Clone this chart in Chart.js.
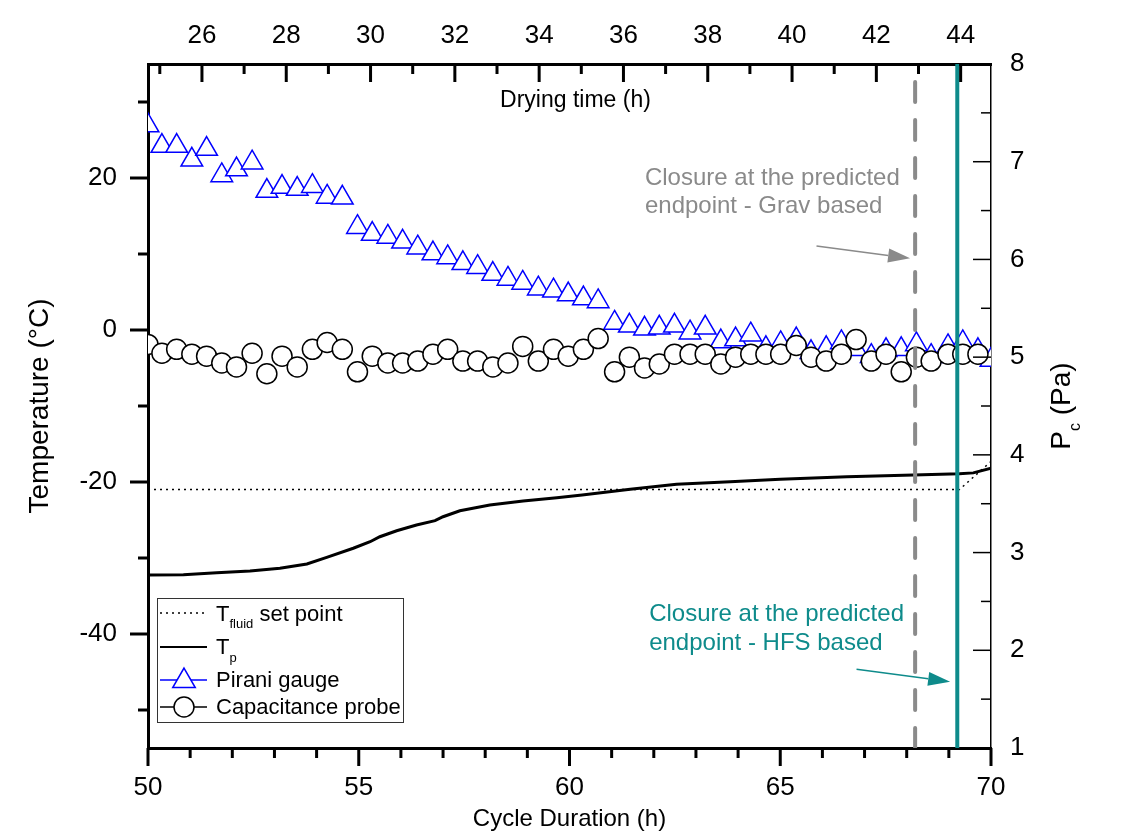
<!DOCTYPE html>
<html>
<head>
<meta charset="utf-8">
<script src="https://cdn.jsdelivr.net/npm/chart.js@4.4.1/dist/chart.umd.min.js"></script>
<style>
  body { margin: 0; background: #fff; }
  #wrap { width: 1128px; height: 834px; }
</style>
</head>
<body>
<div id="wrap"><canvas id="chart"></canvas></div>
<script>
// axis ticks
var cycleTicks = [50, 55, 60, 65, 70];
var dryingTicks = [26, 28, 30, 32, 34, 36, 38, 40, 42, 44];
var tempTicks = [-40, -20, 0, 20];
var pcTicks = [1, 2, 3, 4, 5, 6, 7, 8];

// drying time = cycle duration - offset (h)
var dryingOffset = 25.28;

// chamber pressure readings (Pa)
var pressureTimes = [50.00, 50.33, 50.68, 51.04, 51.39, 51.75, 52.10, 52.47, 52.82, 53.18,
  53.54, 53.90, 54.25, 54.61, 54.97, 55.32, 55.69, 56.04, 56.40, 56.76,
  57.11, 57.47, 57.82, 58.18, 58.54, 58.89, 59.26, 59.62, 59.97, 60.33,
  60.68, 61.07, 61.42, 61.78, 62.13, 62.49, 62.86, 63.22, 63.59, 63.94,
  64.30, 64.66, 65.01, 65.38, 65.73, 66.09, 66.45, 66.80, 67.16, 67.51,
  67.87, 68.23, 68.58, 68.98, 69.33, 69.69, 70.00];
var piraniPa = [7.37, 7.16, 7.16, 7.02, 7.13, 6.86, 6.92, 6.99, 6.70, 6.74,
  6.72, 6.75, 6.64, 6.63, 6.33, 6.26, 6.23, 6.18, 6.12, 6.06,
  6.02, 5.96, 5.92, 5.85, 5.80, 5.76, 5.70, 5.68, 5.64, 5.60,
  5.57, 5.35, 5.32, 5.29, 5.30, 5.32, 5.25, 5.30, 5.16, 5.18,
  5.23, 5.09, 5.14, 5.18, 5.05, 5.09, 5.15, 5.08, 5.01, 5.07,
  5.08, 5.13, 5.01, 5.11, 5.15, 5.07, 4.97];
var capacitancePa = [5.13, 5.04, 5.08, 5.03, 5.01, 4.94, 4.90, 5.04, 4.83, 5.01,
  4.90, 5.08, 5.15, 5.08, 4.85, 5.01, 4.94, 4.94, 4.96, 5.03,
  5.08, 4.96, 4.96, 4.90, 4.94, 5.11, 4.96, 5.08, 5.01, 5.08,
  5.19, 4.85, 5.00, 4.89, 4.93, 5.03, 5.03, 5.03, 4.93, 5.00,
  5.03, 5.03, 5.03, 5.12, 5.00, 4.96, 5.03, 5.18, 4.96, 5.03,
  4.85, 5.00, 4.96, 5.03, 5.03, 5.03, null];

// product temperature (°C)
var tpTimes = [50.0, 50.84, 51.63, 52.42, 53.13, 53.77, 54.24, 54.87, 55.27, 55.5,
  55.9, 56.37, 56.81, 57.0, 57.4, 58.11, 58.9, 59.7, 60.3, 61.44,
  62.54, 63.81, 65.0, 66.58, 68.16, 69.25, 69.58, 70.0];
var tpValues = [-32.24, -32.2, -31.93, -31.71, -31.36, -30.79, -29.91, -28.72, -27.86, -27.2,
  -26.41, -25.66, -25.09, -24.57, -23.78, -23.03, -22.5, -22.07, -21.7, -20.96,
  -20.3, -19.96, -19.65, -19.3, -19.08, -18.9, -18.8, -18.2];

// fluid set point (°C)
var fluidTimes = [50, 69.25, 70];
var fluidValues = [-21, -21, -17.3];

// predicted endpoints (cycle duration, h)
var gravEndpoint = 68.2;
var hfsEndpoint = 69.2;

var tempMin = -55, tempMax = 35;
var FONT = '"Liberation Sans", Arial, sans-serif';
var TEAL = '#0e8b8b';
var GREY = '#8a8a8a';

function pts(xs, ys) {
  var out = [];
  for (var i = 0; i < xs.length; i++) {
    if (ys[i] !== null) out.push({ x: xs[i], y: ys[i] });
  }
  return out;
}
function setTicks(list) {
  return function (scale) {
    scale.ticks = list.map(function (v) { return { value: v }; });
  };
}

// tick marks: left & bottom outward, top & right inward
var axisTicks = {
  id: 'axisTicks',
  afterDraw: function (chart) {
    var ctx = chart.ctx, ca = chart.chartArea;
    var defs = [
      { id: 'x', step: 1, major: 5, side: 'bottom', w: 3 },
      { id: 'x2', step: 1, major: 2, side: 'top', w: 3 },
      { id: 'y', step: 10, major: 20, side: 'left', w: 3 },
      { id: 'y2', step: 0.5, major: 1, side: 'right', w: 1.5 }
    ];
    ctx.save();
    ctx.strokeStyle = '#000';
    defs.forEach(function (d) {
      var s = chart.scales[d.id];
      ctx.lineWidth = d.w;
      for (var v = Math.ceil(s.min / d.step - 1e-9) * d.step; v <= s.max + 1e-9; v += d.step) {
        var r = v / d.major;
        var len = Math.abs(r - Math.round(r)) < 1e-6 ? 18 : 10;
        var p = s.getPixelForValue(v);
        ctx.beginPath();
        if (d.side === 'bottom') { ctx.moveTo(p, ca.bottom); ctx.lineTo(p, ca.bottom + len); }
        if (d.side === 'top') { ctx.moveTo(p, ca.top); ctx.lineTo(p, ca.top + len); }
        if (d.side === 'left') { ctx.moveTo(ca.left - len, p); ctx.lineTo(ca.left, p); }
        if (d.side === 'right') { ctx.moveTo(ca.right - len, p); ctx.lineTo(ca.right, p); }
        ctx.stroke();
      }
    });
    ctx.restore();
  }
};

// annotations (in data units of x and y)
var notes = [
  { color: GREY, x: 61.79, lines: [[19.08, 'Closure at the predicted'], [15.39, 'endpoint - Grav based']],
    arrow: [65.86, 11.05, 68.08, 9.43] },
  { color: TEAL, x: 61.89, lines: [[-38.29, 'Closure at the predicted'], [-42.11, 'endpoint - HFS based']],
    arrow: [66.81, -44.65, 69.03, -46.28] }
];

function drawTriangle(ctx, x, y, r) {
  ctx.beginPath();
  ctx.moveTo(x, y - r);
  ctx.lineTo(x + r * Math.sin(2 * Math.PI / 3), y + r / 2);
  ctx.lineTo(x - r * Math.sin(2 * Math.PI / 3), y + r / 2);
  ctx.closePath();
  ctx.fill();
  ctx.stroke();
}

var extras = {
  id: 'extras',
  afterDraw: function (chart) {
    var ctx = chart.ctx, ca = chart.chartArea;
    var xs = chart.scales.x, ys = chart.scales.y;
    ctx.save();

    // top axis title, inside the frame
    ctx.fillStyle = '#000';
    ctx.font = '23px ' + FONT;
    ctx.textAlign = 'center';
    ctx.textBaseline = 'alphabetic';
    ctx.fillText('Drying time (h)', (ca.left + ca.right) / 2 + 6, ca.top + 43);

    // right axis title P_c (Pa)
    ctx.save();
    ctx.translate(ca.right + 79, (ca.top + ca.bottom) / 2);
    ctx.rotate(-Math.PI / 2);
    ctx.textAlign = 'left';
    ctx.font = '28px ' + FONT;
    var wP = ctx.measureText('P').width;
    var wRest = ctx.measureText(' (Pa)').width;
    ctx.font = '16px ' + FONT;
    var wc = ctx.measureText('c').width;
    var x0 = -(wP + wc + wRest) / 2;
    ctx.font = '28px ' + FONT;
    ctx.fillText('P', x0, 0);
    ctx.font = '16px ' + FONT;
    ctx.fillText('c', x0 + wP, 10);
    ctx.font = '28px ' + FONT;
    ctx.fillText(' (Pa)', x0 + wP + wc, 0);
    ctx.restore();

    // annotations
    ctx.font = '24px ' + FONT;
    ctx.textAlign = 'left';
    notes.forEach(function (n) {
      ctx.fillStyle = n.color;
      n.lines.forEach(function (l) {
        ctx.fillText(l[1], xs.getPixelForValue(n.x), ys.getPixelForValue(l[0]));
      });
      var x1 = xs.getPixelForValue(n.arrow[0]), y1 = ys.getPixelForValue(n.arrow[1]);
      var x2 = xs.getPixelForValue(n.arrow[2]), y2 = ys.getPixelForValue(n.arrow[3]);
      var a = Math.atan2(y2 - y1, x2 - x1), hl = 22, hw = 7;
      ctx.strokeStyle = n.color;
      ctx.lineWidth = 1.5;
      ctx.beginPath();
      ctx.moveTo(x1, y1);
      ctx.lineTo(x2 - hl * Math.cos(a), y2 - hl * Math.sin(a));
      ctx.stroke();
      ctx.beginPath();
      ctx.moveTo(x2, y2);
      ctx.lineTo(x2 - hl * Math.cos(a) + hw * Math.sin(a), y2 - hl * Math.sin(a) - hw * Math.cos(a));
      ctx.lineTo(x2 - hl * Math.cos(a) - hw * Math.sin(a), y2 - hl * Math.sin(a) + hw * Math.cos(a));
      ctx.closePath();
      ctx.fill();
    });

    // legend
    var bx = ca.left + 9, by = ca.bottom - 150, bw = 246, bh = 124;
    ctx.fillStyle = '#fff';
    ctx.fillRect(bx, by, bw, bh);
    ctx.strokeStyle = '#333';
    ctx.lineWidth = 1;
    ctx.strokeRect(bx + 0.5, by + 0.5, bw, bh);
    var s0 = bx + 3, s1 = bx + 50, tx = bx + 59, mx = bx + 27;
    ctx.strokeStyle = '#000';
    ctx.fillStyle = '#000';

    ctx.lineWidth = 1.5;
    ctx.setLineDash([2, 4]);
    ctx.beginPath(); ctx.moveTo(s0, by + 15); ctx.lineTo(s1, by + 15); ctx.stroke();
    ctx.setLineDash([]);
    ctx.font = '22px ' + FONT;
    ctx.fillText('T', tx, by + 23);
    var wT = ctx.measureText('T').width;
    ctx.font = '13px ' + FONT;
    ctx.fillText('fluid', tx + wT, by + 30);
    var wf = ctx.measureText('fluid').width;
    ctx.font = '22px ' + FONT;
    ctx.fillText(' set point', tx + wT + wf, by + 23);

    ctx.lineWidth = 2;
    ctx.beginPath(); ctx.moveTo(s0, by + 49); ctx.lineTo(s1, by + 49); ctx.stroke();
    ctx.fillText('T', tx, by + 56);
    ctx.font = '13px ' + FONT;
    ctx.fillText('p', tx + wT, by + 64);

    ctx.strokeStyle = '#0000ff';
    ctx.lineWidth = 1.5;
    ctx.beginPath(); ctx.moveTo(s0, by + 82); ctx.lineTo(s1, by + 82); ctx.stroke();
    ctx.fillStyle = '#fff';
    drawTriangle(ctx, mx, by + 83, 13);
    ctx.fillStyle = '#000';
    ctx.font = '22px ' + FONT;
    ctx.fillText('Pirani gauge', tx, by + 89);

    ctx.strokeStyle = '#000';
    ctx.beginPath(); ctx.moveTo(s0, by + 109); ctx.lineTo(s1, by + 109); ctx.stroke();
    ctx.fillStyle = '#fff';
    ctx.beginPath(); ctx.arc(mx, by + 109, 10, 0, 2 * Math.PI); ctx.fill(); ctx.stroke();
    ctx.fillStyle = '#000';
    ctx.fillText('Capacitance probe', tx, by + 116);

    ctx.restore();
  }
};

var tickFont = { family: FONT, size: 26 };

new Chart(document.getElementById('chart'), {
  type: 'line',
  data: {
    datasets: [{
      label: 'HFS endpoint',
      data: [{ x: hfsEndpoint, y: tempMin }, { x: hfsEndpoint, y: tempMax }],
      yAxisID: 'y',
      borderColor: TEAL,
      borderWidth: 4,
      pointRadius: 0
    }, {
      label: 'Grav endpoint',
      data: [{ x: gravEndpoint, y: tempMin }, { x: gravEndpoint, y: tempMax }],
      yAxisID: 'y',
      borderColor: GREY,
      borderWidth: 4,
      borderDash: [20, 18],
      borderCapStyle: 'round',
      pointRadius: 0
    }, {
      label: 'Capacitance probe',
      data: pts(pressureTimes, capacitancePa),
      yAxisID: 'y2',
      showLine: false,
      pointStyle: 'circle',
      pointRadius: 10,
      pointBorderWidth: 1.5,
      pointBorderColor: '#000',
      pointBackgroundColor: '#fff'
    }, {
      label: 'Pirani gauge',
      data: pts(pressureTimes, piraniPa),
      yAxisID: 'y2',
      showLine: false,
      pointStyle: 'triangle',
      pointRadius: 12.5,
      pointBorderWidth: 1.5,
      pointBorderColor: '#0000ff',
      pointBackgroundColor: '#fff'
    }, {
      label: 'Tp',
      data: pts(tpTimes, tpValues),
      yAxisID: 'y',
      borderColor: '#000',
      borderWidth: 3,
      pointRadius: 0
    }, {
      label: 'Tfluid set point',
      data: pts(fluidTimes, fluidValues),
      yAxisID: 'y',
      borderColor: '#000',
      borderWidth: 1.5,
      borderDash: [2, 4],
      pointRadius: 0
    }]
  },
  options: {
    responsive: true,
    maintainAspectRatio: false,
    animation: false,
    layout: { padding: 0 },
    elements: { line: { tension: 0 } },
    plugins: { legend: { display: false }, tooltip: { enabled: false } },
    scales: {
      x: {
        type: 'linear', position: 'bottom', min: 50, max: 70,
        grid: { display: false, drawTicks: false },
        border: { display: true, color: '#000', width: 3 },
        ticks: { font: tickFont, color: '#000', padding: 24, maxRotation: 0, autoSkip: false },
        afterBuildTicks: setTicks(cycleTicks),
        afterFit: function (s) { s.height = 86; },
        title: { display: true, text: 'Cycle Duration (h)', color: '#000',
          font: { family: FONT, size: 24 }, padding: { top: 0, bottom: 0 } }
      },
      x2: {
        type: 'linear', position: 'top', min: 50 - dryingOffset, max: 70 - dryingOffset,
        grid: { display: false, drawTicks: false },
        border: { display: true, color: '#000', width: 3 },
        ticks: { font: tickFont, color: '#000', padding: 13, maxRotation: 0, autoSkip: false },
        afterBuildTicks: setTicks(dryingTicks),
        afterFit: function (s) { s.height = 64; }
      },
      y: {
        type: 'linear', position: 'left', min: tempMin, max: tempMax,
        grid: { display: false, drawTicks: false },
        border: { display: true, color: '#000', width: 3 },
        ticks: { font: tickFont, color: '#000', padding: 31 },
        afterBuildTicks: setTicks(tempTicks),
        afterFit: function (s) { s.width = 148; },
        title: { display: true, text: 'Temperature (°C)', color: '#000',
          font: { family: FONT, size: 28 }, padding: { top: 23, bottom: 0 } }
      },
      y2: {
        type: 'linear', position: 'right', min: 1, max: 8,
        grid: { display: false, drawTicks: false },
        border: { display: true, color: '#000', width: 1.5 },
        ticks: { font: tickFont, color: '#000', padding: 19 },
        afterBuildTicks: setTicks(pcTicks),
        afterFit: function (s) { s.width = 137; }
      }
    }
  },
  plugins: [axisTicks, extras]
});
</script>
</body>
</html>
